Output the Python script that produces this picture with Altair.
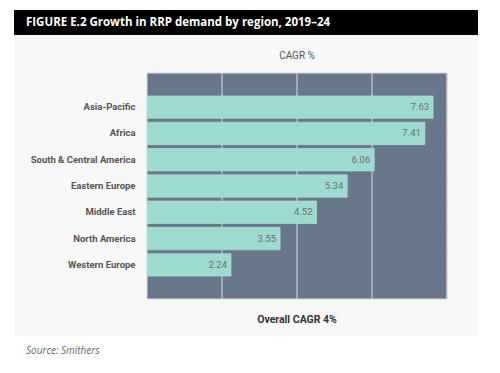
import altair as alt
import pandas as pd

regions = ["Asia-Pacific", "Africa", "South & Central America", "Eastern Europe",
           "Middle East", "North America", "Western Europe"]
cagr = [7.63, 7.41, 6.06, 5.34, 4.52, 3.55, 2.24]
grid_values = [2, 4, 6]
x_domain = [0, 8]

title_text = "FIGURE E.2 Growth in RRP demand by region, 2019\u201324"
top_label = "CAGR %"
bottom_label = "Overall CAGR 4%"
source_text = "Source: Smithers"

COND = "Roboto, Liberation Sans, sans-serif"
W, H = 300, 226

df = pd.DataFrame({"region": regions, "cagr": cagr})
one = pd.DataFrame({"a": [0]})

xscale = alt.Scale(domain=x_domain, nice=False, zero=True)
yscale = alt.Scale(domain=regions, paddingInner=0.145, paddingOuter=0.87)

panel = alt.Chart(one).mark_rect(color="#f8f8f8").encode(
    x=alt.value(-133), x2=alt.value(331), y=alt.value(-38), y2=alt.value(263))

title_bar = alt.Chart(one).mark_rect(color="#000000").encode(
    x=alt.value(-133), x2=alt.value(331), y=alt.value(-63), y2=alt.value(-38))

title = alt.Chart(one).mark_text(
    text=title_text, align="left", baseline="middle", color="white",
    font="Open Sans", fontWeight="bold", fontSize=11.5).encode(
    x=alt.value(-121), y=alt.value(-50.5))

plot_bg = alt.Chart(one).mark_rect(color="#687789", stroke="#d3d7db", strokeWidth=1).encode(
    x=alt.value(0), x2=alt.value(W), y=alt.value(0), y2=alt.value(H))

grid = alt.Chart(pd.DataFrame({"g": grid_values})).mark_rule(
    color="#c9cdd2", strokeWidth=1.2).encode(
    x=alt.X("g:Q", scale=xscale, axis=None))

edge = alt.Chart(pd.DataFrame({"g": [x_domain[1]]})).mark_rule(
    color="#c9cdd2", strokeWidth=1.5, strokeDash=[4, 2]).encode(
    x=alt.X("g:Q", scale=xscale, axis=None))

bars = alt.Chart(df).mark_bar(color="#9ddad0", stroke="#b9e6de", strokeWidth=0.6).encode(
    x=alt.X("cagr:Q", scale=xscale, axis=None),
    y=alt.Y("region:N", scale=yscale, sort=regions,
            axis=alt.Axis(title=None, ticks=False, domain=False, grid=False,
                          labelPadding=12, labelFont=COND, labelFontSize=9.5,
                          labelFontWeight="bold", labelColor="#555555", zindex=1)))

labels = alt.Chart(df).mark_text(
    align="right", baseline="middle", dx=-4, font=COND, fontSize=9.5,
    color="#6e6e6e").encode(
    x=alt.X("cagr:Q", scale=xscale, axis=None),
    y=alt.Y("region:N", scale=yscale, sort=regions),
    text=alt.Text("cagr:Q", format=".2f"))

top_txt = alt.Chart(one).mark_text(
    text=top_label, align="center", baseline="middle", font=COND, fontSize=10,
    color="#555555").encode(x=alt.value(W / 2), y=alt.value(-17))

bottom_txt = alt.Chart(one).mark_text(
    text=bottom_label, align="center", baseline="middle", font=COND, fontSize=10.5,
    fontWeight="bold", color="#333333").encode(x=alt.value(W / 2), y=alt.value(247))

source = alt.Chart(one).mark_text(
    text=source_text, align="left", baseline="middle", font="Open Sans",
    fontStyle="italic", fontSize=10, color="#666666").encode(
    x=alt.value(-121), y=alt.value(278))

chart = alt.layer(panel, title_bar, title, plot_bg, grid, edge, bars, labels,
                  top_txt, bottom_txt, source).properties(
    width=W, height=H,
    autosize=alt.AutoSizeParams(type="none"),
    padding={"left": 139, "top": 65, "right": 45, "bottom": 66},
    background="white",
).configure_view(strokeWidth=0)

chart.save("out.html", embed_options={"renderer": "svg", "actions": False})
